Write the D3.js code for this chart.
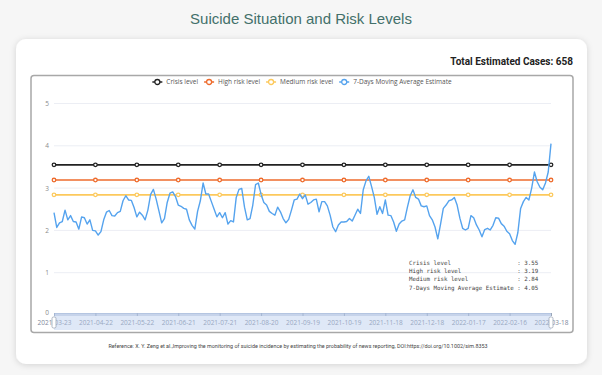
<!DOCTYPE html>
<html>
<head>
<meta charset="utf-8">
<script src="https://cdn.jsdelivr.net/npm/d3@7"></script>
<style>
  html, body { margin: 0; padding: 0; background: #f6f6f6; }
  svg { display: block; }
</style>
</head>
<body>
<svg id="chart" width="602" height="375"></svg>
<script>
// data (one value every 2 days)
const startDate = "2021-03-23";
const stepDays = 2;
const movingAvg = [
  2.42, 2.07, 2.18, 2.21, 2.48, 2.25, 2.35, 2.21, 2.20, 2.03,
  2.32, 2.30, 2.15, 2.25, 2.00, 1.99, 1.89, 1.97, 2.25, 2.43,
  2.47, 2.35, 2.34, 2.42, 2.45, 2.70, 2.82, 2.72, 2.71, 2.54,
  2.32, 2.43, 2.36, 2.25, 2.48, 2.85, 2.97, 2.74, 2.46, 2.18,
  2.28, 2.66, 2.88, 2.91, 2.80, 2.60, 2.57, 2.52, 2.50, 2.25,
  2.12, 2.03, 2.45, 2.70, 3.12, 2.86, 2.86, 2.68, 2.50, 2.32,
  2.42, 2.30, 2.42, 2.15, 2.23, 2.20, 2.78, 2.97, 2.99, 2.55,
  2.25, 2.28, 2.60, 3.08, 3.12, 2.85, 2.66, 2.60, 2.45, 2.40,
  2.36, 2.55, 2.44, 2.28, 2.18, 2.26, 2.48, 2.72, 2.74, 2.86,
  2.75, 2.84, 2.62, 2.66, 2.72, 2.74, 2.44, 2.68, 2.68, 2.58,
  2.36, 2.08, 1.97, 2.13, 2.20, 2.20, 2.21, 2.28, 2.22, 2.36,
  2.50, 2.40, 2.96, 3.17, 3.28, 3.04, 2.78, 2.38, 2.56, 2.40,
  2.72, 2.36, 2.35, 2.20, 1.98, 2.15, 2.22, 2.25, 2.55, 2.82,
  2.96, 2.78, 2.74, 2.58, 2.56, 2.58, 2.35, 2.25, 2.08, 1.80,
  2.15, 2.52, 2.60, 2.70, 2.72, 2.78, 2.60, 2.29, 2.05, 2.01,
  2.05, 2.35, 2.30, 2.13, 2.01, 1.85, 2.02, 2.05, 2.01, 2.12,
  2.30, 2.29, 2.16, 2.10, 1.98, 1.92, 1.76, 1.67, 1.95, 2.52,
  2.68, 2.78, 2.72, 3.00, 3.38, 3.15, 3.02, 2.96, 3.12, 3.38,
  4.05
];
const riskNames = ["Crisis level", "High risk level", "Medium risk level"];
const riskValues = [3.55, 3.19, 2.84];
const avgName = "7-Days Moving Average Estimate";
const tickLabels = [
  "2021-03-23", "2021-04-22", "2021-05-22", "2021-06-21", "2021-07-21",
  "2021-08-20", "2021-09-19", "2021-10-19", "2021-11-18", "2021-12-18",
  "2022-01-17", "2022-02-16", "2022-03-18"
];
const yTicks = [0, 1, 2, 3, 4, 5];
const totalCases = 658;

const riskColors = ["#222222", "#ee6b2c", "#fcc95c"];
const avgColor = "#55a3ee";

const parse = d3.timeParse("%Y-%m-%d");
const start = parse(startDate);
const dates = movingAvg.map((d, i) => d3.timeDay.offset(start, i * stepDays));
const tickDates = tickLabels.map(parse);

const svg = d3.select("#chart");

// card shadow
const defs = svg.append("defs");
const f = defs.append("filter").attr("id", "shadow")
  .attr("x", "-10%").attr("y", "-10%").attr("width", "120%").attr("height", "120%");
f.append("feDropShadow").attr("dx", 0).attr("dy", 1).attr("stdDeviation", 3)
  .attr("flood-color", "#000").attr("flood-opacity", 0.15);

svg.append("text")
  .attr("x", 301).attr("y", 24)
  .attr("text-anchor", "middle")
  .style("font-family", "'Liberation Sans', Arial, sans-serif")
  .style("font-size", "15px")
  .attr("fill", "#43706a")
  .text("Suicide Situation and Risk Levels");

svg.append("rect")
  .attr("x", 16).attr("y", 39).attr("width", 571).attr("height", 325)
  .attr("rx", 10).attr("fill", "#fff").attr("filter", "url(#shadow)");

svg.append("text")
  .attr("x", 573).attr("y", 65)
  .attr("text-anchor", "end")
  .style("font-family", "Roboto, sans-serif")
  .style("font-size", "10px").style("font-weight", "bold")
  .attr("fill", "#222")
  .text("Total Estimated Cases: " + totalCases);

// chart frame
svg.append("rect")
  .attr("x", 31).attr("y", 75.5).attr("width", 542).attr("height", 257)
  .attr("rx", 3).attr("fill", "none").attr("stroke", "#a8a8a8").attr("stroke-width", 1.5);

const x = d3.scaleTime().domain([dates[0], dates[dates.length - 1]]).range([54, 551]);
const y = d3.scaleLinear().domain([0, 5]).range([315, 103.5]);

// grid
svg.append("g").selectAll("line")
  .data(yTicks.slice(1))
  .enter().append("line")
  .attr("x1", 54).attr("x2", 551)
  .attr("y1", d => y(d)).attr("y2", d => y(d))
  .attr("stroke", "#eceef4").attr("stroke-width", 1);

const yAxis = svg.append("g")
  .attr("transform", "translate(54,0)")
  .call(d3.axisLeft(y).tickValues(yTicks).tickFormat(d3.format("d")).tickSize(0).tickPadding(5));
yAxis.select(".domain").remove();
yAxis.selectAll("text")
  .style("font-family", "'Open Sans', sans-serif").style("font-size", "6.5px")
  .attr("fill", "#8a8a8a");
// the zero label sits a touch higher than the others in the reference
yAxis.selectAll(".tick text").filter(d => d === 0).attr("dy", "-0.1em");

// x labels (under the slider)
const xAxis = svg.append("g")
  .attr("transform", "translate(0,313)")
  .call(d3.axisBottom(x).tickValues(tickDates).tickFormat(d3.timeFormat("%Y-%m-%d")).tickSize(3).tickPadding(4));
xAxis.select(".domain").attr("stroke", "#c9d3e3");
xAxis.selectAll(".tick line").attr("stroke", "#9aa6b8");
xAxis.selectAll("text")
  .style("font-family", "'Open Sans', sans-serif").style("font-size", "6.5px")
  .attr("fill", "#7d889a");

// risk lines with markers
riskValues.forEach((v, k) => {
  const line = d3.line().x(d => x(d)).y(() => y(v));
  svg.append("path")
    .datum(dates)
    .attr("d", line)
    .attr("fill", "none").attr("stroke", riskColors[k]).attr("stroke-width", 1.6);
  svg.append("g").selectAll("circle")
    .data(tickDates)
    .enter().append("circle")
    .attr("cx", d => x(d)).attr("cy", y(v)).attr("r", 1.8)
    .attr("fill", "#fff").attr("stroke", riskColors[k]).attr("stroke-width", 1.3);
});

// moving average
svg.append("path")
  .datum(movingAvg)
  .attr("d", d3.line().x((d, i) => x(dates[i])).y(d => y(d)))
  .attr("fill", "none").attr("stroke", avgColor).attr("stroke-width", 1.4)
  .attr("stroke-linejoin", "round");

// data zoom slider
svg.append("rect")
  .attr("x", 54).attr("y", 313).attr("width", 497).attr("height", 17)
  .attr("fill", "#b9cdee").attr("fill-opacity", 0.45);
svg.append("rect")
  .attr("x", 54).attr("y", 313).attr("width", 497).attr("height", 3)
  .attr("fill", "#9fb3d6").attr("fill-opacity", 0.4);
[54, 551].forEach(hx => {
  svg.append("rect")
    .attr("x", hx - 2).attr("y", 317).attr("width", 4).attr("height", 11)
    .attr("rx", 1.5).attr("fill", "#fff").attr("stroke", "#9aa4b4").attr("stroke-width", 0.8);
});

// legend
const legendItems = riskNames.map((n, k) => ({ name: n, color: riskColors[k] }))
  .concat([{ name: avgName, color: avgColor }]);
const legend = svg.append("g");
let lx = 0;
legendItems.forEach(it => {
  const g = legend.append("g").attr("transform", `translate(${lx},0)`);
  g.append("line").attr("x1", 0).attr("x2", 10).attr("y1", 0).attr("y2", 0)
    .attr("stroke", it.color).attr("stroke-width", 1.5);
  g.append("circle").attr("cx", 5).attr("cy", 0).attr("r", 2.5)
    .attr("fill", "#fff").attr("stroke", it.color).attr("stroke-width", 1.3);
  const t = g.append("text").attr("x", 14).attr("y", 2.3)
    .style("font-family", "'Open Sans', sans-serif").style("font-size", "6.5px")
    .attr("fill", "#555").text(it.name);
  lx += 14 + t.node().getComputedTextLength() + 6;
});
legend.attr("transform", `translate(${302 - (lx - 6) / 2},82)`);

// info box
const infoLines = [
  "Crisis level                   : " + riskValues[0].toFixed(2),
  "High risk level                : " + riskValues[1].toFixed(2),
  "Medium risk level              : " + riskValues[2].toFixed(2),
  avgName + " : " + movingAvg[movingAvg.length - 1].toFixed(2)
];
svg.append("g").selectAll("text")
  .data(infoLines)
  .enter().append("text")
  .attr("x", 409).attr("y", (d, i) => 264.5 + i * 8.4)
  .style("font-family", "'DejaVu Sans Mono', monospace").style("font-size", "5.8px")
  .style("white-space", "pre")
  .attr("fill", "#444")
  .text(d => d);

svg.append("text")
  .attr("x", 298).attr("y", 348)
  .attr("text-anchor", "middle")
  .style("font-family", "Roboto, sans-serif").style("font-size", "5.4px")
  .attr("fill", "#444")
  .text("Reference: X. Y. Zeng et al.,Improving the monitoring of suicide incidence by estimating the probability of news reporting, DOI:https://doi.org/10.1002/sim.8353");
</script>
</body>
</html>
